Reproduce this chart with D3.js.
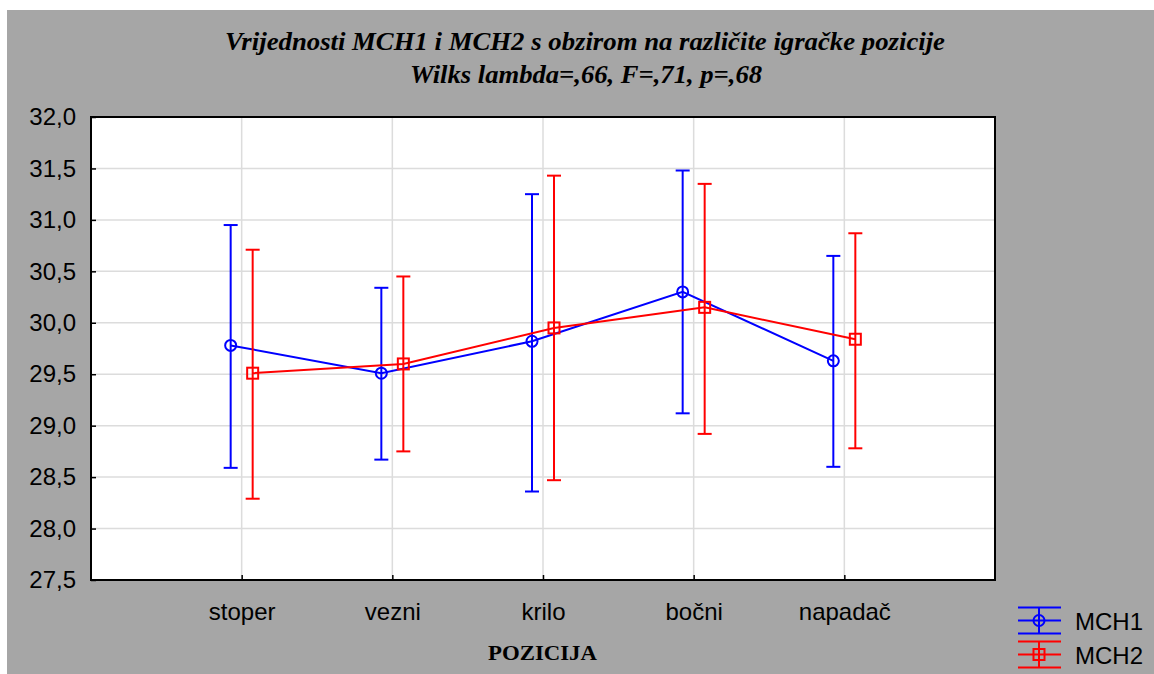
<!DOCTYPE html>
<html>
<head>
<meta charset="utf-8">
<script src="https://cdn.jsdelivr.net/npm/d3@7"></script>
<style>
  html, body { margin: 0; padding: 0; background: #ffffff; }
  svg { display: block; }
</style>
</head>
<body>
<svg id="chart" width="1154" height="674"></svg>
<script>
// ---- data ----
const categories = ["stoper", "vezni", "krilo", "bočni", "napadač"];
const mch1Mean  = [29.78, 29.51, 29.82, 30.30, 29.63];
const mch1Lower = [28.59, 28.67, 28.36, 29.12, 28.60];
const mch1Upper = [30.95, 30.34, 31.25, 31.48, 30.65];
const mch2Mean  = [29.51, 29.60, 29.95, 30.15, 29.84];
const mch2Lower = [28.29, 28.75, 28.47, 28.92, 28.78];
const mch2Upper = [30.71, 30.45, 31.43, 31.35, 30.87];
const yTicks = [27.5, 28.0, 28.5, 29.0, 29.5, 30.0, 30.5, 31.0, 31.5, 32.0];
const seriesNames = ["MCH1", "MCH2"];
const titleLines = ["Vrijednosti MCH1 i MCH2 s obzirom na različite igračke pozicije",
                    "Wilks lambda=,66, F=,71, p=,68"];
const xTitle = "POZICIJA";

// ---- layout ----
const svg = d3.select("#chart");
const plot = { left: 91, right: 995, top: 117, bottom: 580 };
const bg = "#a6a6a6";
const colors = ["#0000ff", "#ff0000"];
const offsets = [-11, 11];

svg.append("rect").attr("x", 7).attr("y", 10).attr("width", 1147).attr("height", 664).attr("fill", bg);

const x = d3.scalePoint().domain(categories).range([plot.left, plot.right]).padding(1);
const y = d3.scaleLinear().domain([27.5, 32]).range([plot.bottom, plot.top]);

const locale = d3.formatLocale({ decimal: ",", thousands: ".", grouping: [3], currency: ["", ""] });
const fmt = locale.format(".1f");

svg.append("rect")
  .attr("x", plot.left).attr("y", plot.top)
  .attr("width", plot.right - plot.left).attr("height", plot.bottom - plot.top)
  .attr("fill", "#ffffff");

// grid
const grid = svg.append("g");
grid.selectAll("line.h").data(yTicks.slice(1, -1)).join("line")
  .attr("x1", plot.left).attr("x2", plot.right)
  .attr("y1", d => y(d)).attr("y2", d => y(d))
  .attr("stroke", "#dcdcdc").attr("stroke-width", 1.5);
grid.selectAll("line.v").data(categories).join("line")
  .attr("x1", d => x(d)).attr("x2", d => x(d))
  .attr("y1", plot.top).attr("y2", plot.bottom)
  .attr("stroke", "#dcdcdc").attr("stroke-width", 1.5);

// axes
const yAxis = d3.axisLeft(y).tickValues(yTicks).tickFormat(fmt).tickSize(-5).tickPadding(15);
const gy = svg.append("g").attr("transform", `translate(${plot.left},0)`).call(yAxis);
gy.select(".domain").remove();
gy.selectAll(".tick line").attr("stroke", "#000").attr("stroke-width", 1.5);
gy.selectAll(".tick text").attr("font-family", "Liberation Sans, Arial, sans-serif")
  .attr("font-size", 24).attr("fill", "#000");

const xAxis = d3.axisBottom(x).tickSize(-5).tickPadding(23);
const gx = svg.append("g").attr("transform", `translate(0,${plot.bottom})`).call(xAxis);
gx.select(".domain").remove();
gx.selectAll(".tick line").attr("stroke", "#000").attr("stroke-width", 1.5);
gx.selectAll(".tick text").attr("font-family", "Liberation Sans, Arial, sans-serif")
  .attr("font-size", 24).attr("fill", "#000");

// frame
svg.append("rect")
  .attr("x", plot.left).attr("y", plot.top)
  .attr("width", plot.right - plot.left).attr("height", plot.bottom - plot.top)
  .attr("fill", "none").attr("stroke", "#000").attr("stroke-width", 2);

// series
const series = [
  { name: seriesNames[0], mean: mch1Mean, lo: mch1Lower, hi: mch1Upper, marker: "circle" },
  { name: seriesNames[1], mean: mch2Mean, lo: mch2Lower, hi: mch2Upper, marker: "square" }
];

function drawMarker(g, type, cx, cy, color) {
  if (type === "circle") {
    g.append("circle").attr("cx", cx).attr("cy", cy).attr("r", 5.5)
      .attr("fill", "none").attr("stroke", color).attr("stroke-width", 2);
  } else {
    g.append("rect").attr("x", cx - 5.5).attr("y", cy - 5.5).attr("width", 11).attr("height", 11)
      .attr("fill", "none").attr("stroke", color).attr("stroke-width", 2);
  }
}

series.forEach((s, si) => {
  const color = colors[si];
  const dx = offsets[si];
  const g = svg.append("g");
  const pts = categories.map((c, i) => [x(c) + dx, y(s.mean[i])]);
  g.append("path").attr("d", d3.line()(pts)).attr("fill", "none")
    .attr("stroke", color).attr("stroke-width", 2);
  categories.forEach((c, i) => {
    const cx = x(c) + dx;
    g.append("line").attr("x1", cx).attr("x2", cx).attr("y1", y(s.lo[i])).attr("y2", y(s.hi[i]))
      .attr("stroke", color).attr("stroke-width", 2);
    [s.lo[i], s.hi[i]].forEach(v => {
      g.append("line").attr("x1", cx - 7).attr("x2", cx + 7).attr("y1", y(v)).attr("y2", y(v))
        .attr("stroke", color).attr("stroke-width", 2);
    });
    drawMarker(g, s.marker, cx, y(s.mean[i]), color);
  });
});

// titles
const titleG = svg.append("g").attr("font-family", "Liberation Serif, Times New Roman, serif")
  .attr("font-weight", "bold").attr("font-style", "italic").attr("font-size", 25).attr("fill", "#000");
titleG.append("text").attr("x", 585).attr("y", 50).attr("text-anchor", "middle")
  .attr("textLength", 720).attr("lengthAdjust", "spacingAndGlyphs").text(titleLines[0]);
titleG.append("text").attr("x", 586).attr("y", 83).attr("text-anchor", "middle")
  .attr("textLength", 352).attr("lengthAdjust", "spacingAndGlyphs").text(titleLines[1]);

svg.append("text").attr("x", 542.5).attr("y", 660).attr("text-anchor", "middle")
  .attr("font-family", "Liberation Serif, Times New Roman, serif").attr("font-weight", "bold")
  .attr("font-size", 20).attr("textLength", 109).attr("lengthAdjust", "spacingAndGlyphs")
  .text(xTitle);

// legend
const legend = svg.append("g");
const legendRows = [620.5, 654.5];
series.forEach((s, si) => {
  const color = colors[si];
  const cy = legendRows[si];
  const g = legend.append("g");
  [-13, 0, 13].forEach(d => {
    g.append("line").attr("x1", 1018).attr("x2", 1061).attr("y1", cy + d).attr("y2", cy + d)
      .attr("stroke", color).attr("stroke-width", 2);
  });
  g.append("line").attr("x1", 1039).attr("x2", 1039).attr("y1", cy - 13).attr("y2", cy + 13)
    .attr("stroke", color).attr("stroke-width", 2);
  drawMarker(g, s.marker, 1039, cy, color);
  g.append("text").attr("x", 1075).attr("y", cy + 9).attr("font-family", "Liberation Sans, Arial, sans-serif")
    .attr("font-size", 24).attr("fill", "#000").text(s.name);
});
</script>
</body>
</html>
